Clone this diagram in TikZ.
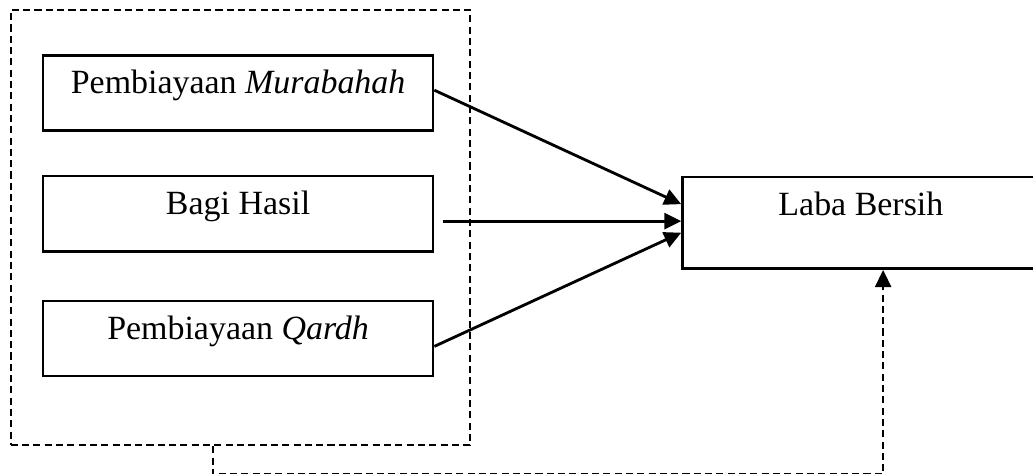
\documentclass[tikz,border=0pt]{standalone}
\usepackage{fontspec}
\setmainfont{Liberation Serif}
\usetikzlibrary{arrows.meta,positioning,fit}

\begin{document}
\begin{tikzpicture}[>={Triangle[length=6pt,width=5.7pt]},line width=0.9pt,
    font=\fontsize{12}{14}\selectfont,
    var/.style={draw,inner sep=0pt,minimum width=137.9pt,text height=13.6pt,text depth=13pt},
    dep/.style={draw,inner sep=0pt,minimum width=126.2pt,text height=13.8pt,text depth=18.7pt},
    grup/.style={draw,dashed,dash pattern=on 2.5pt off 1.5pt,line width=0.7pt,inner sep=0pt}]

            \useasboundingbox (0,0) rectangle (365.3pt,-167.6pt);
            \clip (0,0) rectangle (365.3pt,-167.6pt);

            \node[var] (murabahah) at (84.2pt,-32.9pt) {Pembiayaan \textit{Murabahah}};

            \node[var] (bagi) [below=15.2pt of murabahah] {Bagi Hasil};

            \node[var] (qardh) [below=16.6pt of bagi] {Pembiayaan \textit{Qardh}};

            \node[dep] (laba) [right=87.3pt of bagi,yshift=-3.2pt] {Laba Bersih};

            % kotak putus-putus di sekitar variabel X
            \coordinate (gkiri) at ([xshift=-11pt,yshift=15.6pt]murabahah.north west);
            \coordinate (gkanan) at ([xshift=12.7pt,yshift=-24pt]qardh.south east);
            \node[grup,fit=(gkiri)(gkanan)] (grupx) {};

            \path[->,line width=1pt] ([yshift=1pt]murabahah.east) edge ([yshift=6.6pt]laba.west)
                      ([yshift=0.6pt]laba.west -| bagi.east) edge[shorten <=3.2pt] ([yshift=0.6pt]laba.west)
                      ([yshift=-2.8pt]qardh.east) edge ([yshift=-3.5pt]laba.west);

            \draw[->,dash pattern=on 2.5pt off 1.5pt,line width=0.7pt]
                ([xshift=71.8pt]grupx.south west) -- ++(0,-9.9pt)
                -| ([xshift=71.4pt]laba.south west);

        \end{tikzpicture}
\end{document}
